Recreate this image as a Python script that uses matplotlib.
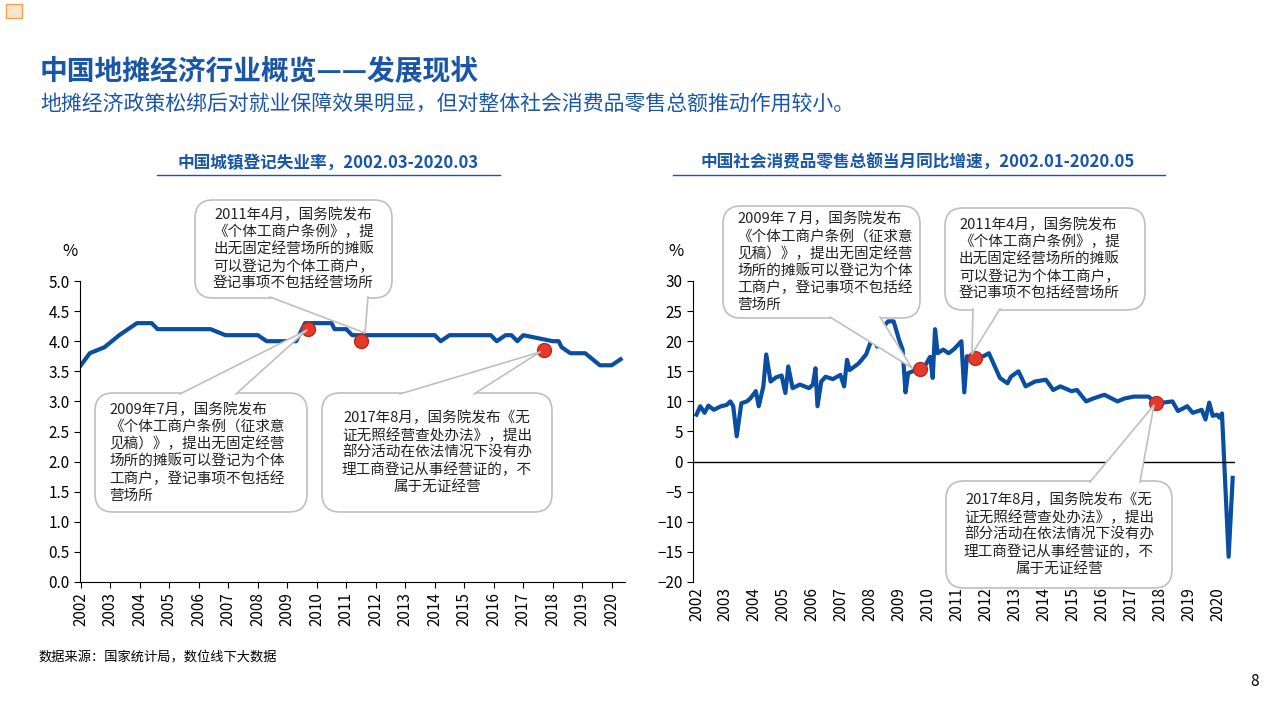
import matplotlib
matplotlib.use("Agg")
import matplotlib.pyplot as plt
from matplotlib.patches import FancyBboxPatch, Polygon, Rectangle

plt.rcParams['font.family'] = ['Noto Sans CJK SC', 'DejaVu Sans']

BLUE = '#0A4EA2'
TITLE_BLUE = '#1A56A8'
RED = '#E53A2B'
GREY = '#BFBFBF'

# unemployment rate (year, %)
unemp_x = [2002.0, 2002.3, 2002.8, 2003.3, 2003.6, 2003.9, 2004.4, 2004.6, 2006.4, 2006.9,
           2008.0, 2008.3, 2009.3, 2009.6, 2010.5, 2010.6, 2011.0, 2011.2, 2014.0, 2014.2,
           2014.5, 2015.9, 2016.1, 2016.4, 2016.6, 2016.8, 2017.0, 2018.0, 2018.2, 2018.3,
           2018.6, 2019.1, 2019.6, 2020.0, 2020.3]
unemp_y = [3.6, 3.8, 3.9, 4.1, 4.2, 4.3, 4.3, 4.2, 4.2, 4.1,
           4.1, 4.0, 4.0, 4.3, 4.3, 4.2, 4.2, 4.1, 4.1, 4.0,
           4.1, 4.1, 4.0, 4.1, 4.1, 4.0, 4.1, 4.0, 4.0, 3.9,
           3.8, 3.8, 3.6, 3.6, 3.7]

# retail sales yoy growth (year, %)
retail_x = [2002.00, 2002.13, 2002.28, 2002.41, 2002.60, 2002.85, 2003.04, 2003.17, 2003.27, 2003.39,
            2003.55, 2003.74, 2003.86, 2004.05, 2004.15, 2004.31, 2004.41, 2004.56, 2004.75, 2004.94,
            2005.07, 2005.17, 2005.32, 2005.57, 2005.89, 2006.02, 2006.11, 2006.18, 2006.31, 2006.46,
            2006.71, 2006.97, 2007.10, 2007.20, 2007.29, 2007.60, 2007.86, 2008.11, 2008.24, 2008.36,
            2008.62, 2008.81, 2009.00, 2009.12, 2009.22, 2009.31, 2009.63, 2009.88, 2010.07, 2010.16,
            2010.24, 2010.33, 2010.52, 2010.71, 2010.90, 2011.15, 2011.25, 2011.34, 2011.53, 2011.91,
            2012.10, 2012.48, 2012.74, 2012.86, 2013.12, 2013.37, 2013.69, 2014.07, 2014.32, 2014.57,
            2014.95, 2015.14, 2015.46, 2015.71, 2016.09, 2016.54, 2016.79, 2017.11, 2017.61, 2017.87,
            2018.12, 2018.44, 2018.63, 2018.95, 2019.14, 2019.45, 2019.58, 2019.71, 2019.83, 2019.98,
            2020.06, 2020.15, 2020.38, 2020.52]
retail_y = [7.8, 9.2, 8.1, 9.3, 8.6, 9.2, 9.4, 10.0, 9.2, 4.2,
            9.7, 10.0, 10.5, 11.7, 9.2, 12.5, 17.8, 13.3, 14.0, 14.3,
            11.4, 15.8, 12.2, 12.8, 12.2, 12.8, 15.5, 9.2, 13.3, 14.1,
            13.7, 14.4, 12.5, 16.9, 15.2, 16.3, 17.8, 21.1, 19.1, 21.9,
            23.3, 23.3, 20.2, 18.6, 11.5, 14.7, 15.3, 15.8, 17.4, 13.9,
            22.0, 18.0, 18.6, 18.0, 18.7, 20.0, 11.5, 17.5, 17.4, 17.5,
            18.0, 13.9, 13.0, 14.1, 15.0, 12.5, 13.3, 13.6, 11.9, 12.5,
            11.7, 11.9, 10.0, 10.5, 11.1, 10.0, 10.5, 10.8, 10.8, 9.8,
            9.8, 10.0, 8.4, 9.2, 8.1, 8.6, 7.0, 9.8, 7.6, 7.8,
            7.3, 8.0, -15.8, -2.7]

left_marks_x = [2009.7, 2011.5, 2017.7]
left_marks_y = [4.2, 4.0, 3.85]
right_marks_x = [2009.73, 2011.61, 2017.87]
right_marks_y = [15.4, 17.2, 9.7]
years = list(range(2002, 2021))

fig = plt.figure(figsize=(12.84, 7.18), dpi=100)
W, H = 1284, 718


def ax_rect(x0, x1, y0, y1):
    return [x0 / W, 1 - y1 / H, (x1 - x0) / W, (y1 - y0) / H]


def style(ax):
    for s in ['top', 'right']:
        ax.spines[s].set_visible(False)
    ax.spines['left'].set_color('black')
    ax.spines['bottom'].set_color('black')
    ax.set_xticks(years)
    ax.set_xticklabels([str(y) for y in years], rotation=90, fontsize=11)
    ax.tick_params(axis='both', labelsize=11, direction='out', length=4)


# left chart
ax1 = fig.add_axes(ax_rect(80, 625, 281, 582))
ax1.plot(unemp_x, unemp_y, color=BLUE, lw=3, solid_joinstyle='round')
ax1.plot(left_marks_x, left_marks_y, 'o', color=RED, mec='#B22B1F', ms=10, zorder=5)
ax1.set_xlim(2001.97, 2020.45)
ax1.set_ylim(0, 5)
ax1.set_yticks([0, 0.5, 1, 1.5, 2, 2.5, 3, 3.5, 4, 4.5, 5])
ax1.set_yticklabels(['%.1f' % v for v in ax1.get_yticks()])
style(ax1)

# right chart
ax2 = fig.add_axes(ax_rect(693, 1235, 281, 582))
ax2.plot(retail_x, retail_y, color=BLUE, lw=3, solid_joinstyle='round')
ax2.plot(right_marks_x, right_marks_y, 'o', color=RED, mec='#B22B1F', ms=10, zorder=5)
ax2.set_xlim(2001.88, 2020.6)
ax2.set_ylim(-20, 30)
ax2.set_yticks(range(-20, 31, 5))
style(ax2)
ax2.spines['bottom'].set_visible(False)
ax2.axhline(0, color='black', lw=1)
ax2.set_xticks(years)
ax2.tick_params(axis='x', length=0)

# overlay for text and callouts
ov = fig.add_axes([0, 0, 1, 1], zorder=10)
ov.set_xlim(0, W)
ov.set_ylim(H, 0)
ov.axis('off')

ov.add_patch(Rectangle((6, 4), 16, 14, fc='#FCE4C8', ec='#F0A050', lw=1))
ov.text(40, 72, '中国地摊经济行业概览——发展现状', fontsize=20, fontweight='bold',
        color=TITLE_BLUE, va='center')
ov.text(40, 105, '地摊经济政策松绑后对就业保障效果明显，但对整体社会消费品零售总额推动作用较小。',
        fontsize=15, color=TITLE_BLUE, va='center')
for cx, txt, x0, x1 in [(328, '中国城镇登记失业率，2002.03-2020.03', 157, 500),
                        (918, '中国社会消费品零售总额当月同比增速，2002.01-2020.05', 673, 1165)]:
    ov.text(cx, 163, txt, fontsize=12, fontweight='bold', color=TITLE_BLUE, ha='center', va='center')
    ov.plot([x0, x1], [175, 175], color=TITLE_BLUE, lw=1)
ov.text(62, 252, '%', fontsize=12, va='center')
ov.text(668, 252, '%', fontsize=12, va='center')
ov.text(38, 658, '数据来源：国家统计局，数位线下大数据', fontsize=9.5, va='center')
ov.text(1250, 682, '8', fontsize=11, va='center')


def callout(x0, y0, x1, y1, lines, base, tip, ha='left'):
    ov.add_patch(FancyBboxPatch((x0, y0), x1 - x0, y1 - y0,
                                boxstyle='round,pad=0,rounding_size=18',
                                fc='white', ec=GREY, lw=1.2, zorder=2))
    (bx0, by0), (bx1, by1) = base
    ov.add_patch(Polygon([(bx0, by0), (bx1, by1), tip], closed=True, fc='white', ec='none', zorder=3))
    ov.plot([bx0, tip[0], bx1], [by0, tip[1], by1], color=GREY, lw=1.2, zorder=3)
    tx = x0 + 14 if ha == 'left' else (x0 + x1) / 2
    ov.text(tx, (y0 + y1) / 2, '\n'.join(lines), fontsize=10.5, color='#222222',
            ha=ha, va='center', linespacing=1.25, zorder=4, multialignment='center' if ha == 'center' else 'left')


callout(195, 200, 392, 298,
        ['2011年4月，国务院发布', '《个体工商户条例》，提', '出无固定经营场所的摊贩', '可以登记为个体工商户，', '登记事项不包括经营场所'],
        [(270, 297), (368, 297)], (365, 333), ha='center')
callout(95, 393, 307, 512,
        ['2009年7月，国务院发布', '《个体工商户条例（征求意', '见稿）》，提出无固定经营', '场所的摊贩可以登记为个体', '工商户，登记事项不包括经', '营场所'],
        [(180, 394), (236, 394)], (307, 330))
callout(322, 393, 552, 512,
        ['2017年8月，国务院发布《无', '证无照经营查处办法》，提出', '部分活动在依法情况下没有办', '理工商登记从事经营证的，不', '属于无证经营'],
        [(400, 394), (474, 394)], (540, 352), ha='center')
callout(723, 206, 920, 318,
        ['2009年７月，国务院发布', '《个体工商户条例（征求意', '见稿）》，提出无固定经营', '场所的摊贩可以登记为个体', '工商户，登记事项不包括经', '营场所'],
        [(830, 317), (880, 317)], (912, 368))
callout(945, 208, 1145, 310,
        ['2011年4月，国务院发布', '《个体工商户条例》，提', '出无固定经营场所的摊贩', '可以登记为个体工商户，', '登记事项不包括经营场所'],
        [(973, 309), (1000, 309)], (972, 354))
callout(946, 481, 1172, 588,
        ['2017年8月，国务院发布《无', '证无照经营查处办法》，提出', '部分活动在依法情况下没有办', '理工商登记从事经营证的，不', '属于无证经营'],
        [(1090, 482), (1140, 482)], (1154, 405), ha='center')

fig.savefig('out.png', dpi=100)
